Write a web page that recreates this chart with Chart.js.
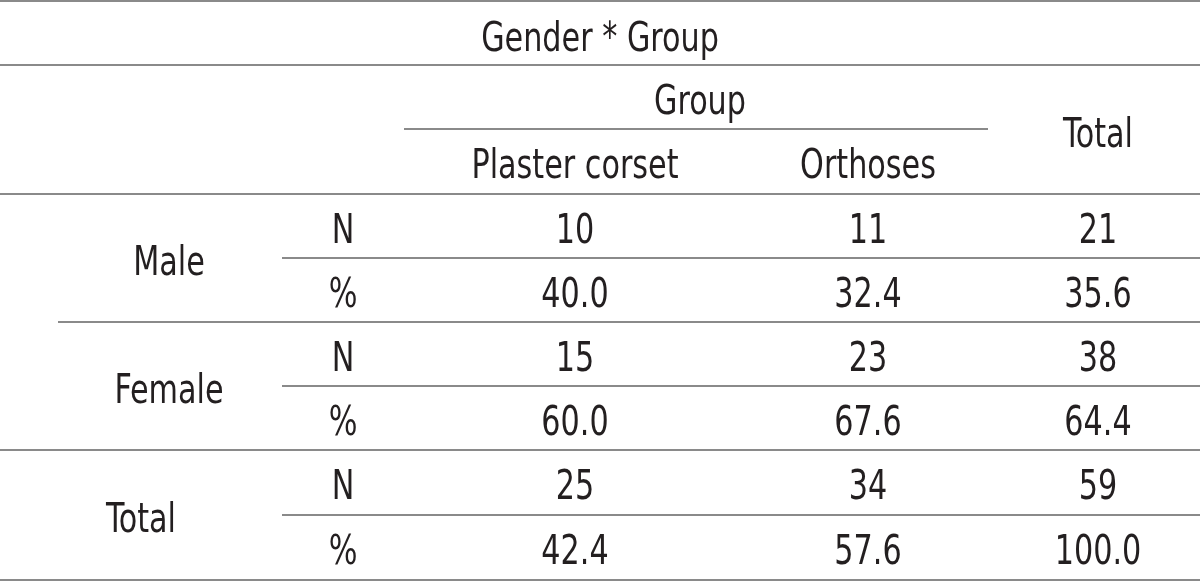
<!DOCTYPE html>
<html>
<head>
<meta charset="utf-8">
<script src="https://cdn.jsdelivr.net/npm/chart.js@4.4.0/dist/chart.umd.min.js"></script>
<style>
  html, body { margin: 0; padding: 0; background: #fff; }
  #wrap { width: 1200px; height: 581px; }
</style>
</head>
<body>
<div id="wrap"><canvas id="tableChart" width="1200" height="581"></canvas></div>
<script>
const TITLE = "Gender * Group";
const GROUP_HEADER = "Group";
const COLUMNS = ["Plaster corset", "Orthoses", "Total"];
const ROW_GROUPS = ["Male", "Female", "Total"];
const STATS = ["N", "%", "N", "%", "N", "%"];

const PLASTER = [10, 40.0, 15, 60.0, 25, 42.4];
const ORTHOSES = [11, 32.4, 23, 67.6, 34, 57.6];
const TOTAL = [21, 35.6, 38, 64.4, 59, 100.0];

// layout (scale units, x: 0..1200, y: 0..581 top-down), y values are text baselines
const COL_X = [575, 868, 1098];
const STAT_X = 343;
const GROUP_X = [169, 169, 141];
const ROW_Y = [243, 307, 371, 435, 499, 564];
const FONT = '40px "DejaVu Sans Condensed", sans-serif';
const SQUEEZE = 0.84;
const INK = "#231f20";
const RULE = "#8a8a8a";

function fmt(v, i) {
  return STATS[i] === "%" ? v.toFixed(1) : String(v);
}

const tablePlugin = {
  id: "tablePlugin",
  afterDatasetsDraw(chart) {
    const ctx = chart.ctx;
    const xs = chart.scales.x, ys = chart.scales.y;
    const X = v => xs.getPixelForValue(v);
    const Y = v => ys.getPixelForValue(v);

    ctx.save();
    // rules
    ctx.strokeStyle = RULE;
    ctx.lineWidth = 2;
    const rule = (x0, x1, y) => {
      ctx.beginPath();
      ctx.moveTo(X(x0), Y(y));
      ctx.lineTo(X(x1), Y(y));
      ctx.stroke();
    };
    rule(0, 1200, 1);
    rule(0, 1200, 65);
    rule(404, 988, 129);
    rule(0, 1200, 194);
    rule(282, 1200, 258);
    rule(58, 1200, 322);
    rule(282, 1200, 386);
    rule(0, 1200, 450);
    rule(282, 1200, 515);
    rule(0, 1200, 580);

    ctx.fillStyle = INK;
    ctx.font = FONT;
    ctx.textAlign = "center";
    ctx.textBaseline = "alphabetic";
    const text = (s, px, py) => {
      ctx.save();
      ctx.translate(px, py);
      ctx.scale(SQUEEZE, 1);
      ctx.fillText(s, 0, 0);
      ctx.restore();
    };
    text(TITLE, X(600), Y(51));
    text(GROUP_HEADER, X(700), Y(114));
    text(COLUMNS[0], X(COL_X[0]), Y(178));
    text(COLUMNS[1], X(COL_X[1]), Y(178));
    text(COLUMNS[2], X(COL_X[2]), Y(147));

    ROW_GROUPS.forEach((g, i) => {
      text(g, X(GROUP_X[i]), Y((ROW_Y[i * 2] + ROW_Y[i * 2 + 1]) / 2));
    });
    STATS.forEach((s, i) => text(s, X(STAT_X), Y(ROW_Y[i])));

    // cell values, placed at each dataset point
    chart.data.datasets.forEach((ds, di) => {
      const meta = chart.getDatasetMeta(di);
      meta.data.forEach((pt, i) => {
        text(fmt(ds.data[i].v, i), pt.x, pt.y);
      });
    });
    ctx.restore();
  }
};

function cells(values, col) {
  return values.map((v, i) => ({ x: COL_X[col], y: ROW_Y[i], v: v }));
}

new Chart(document.getElementById("tableChart"), {
  type: "scatter",
  data: {
    datasets: [
      { label: COLUMNS[0], data: cells(PLASTER, 0), pointRadius: 0 },
      { label: COLUMNS[1], data: cells(ORTHOSES, 1), pointRadius: 0 },
      { label: COLUMNS[2], data: cells(TOTAL, 2), pointRadius: 0 }
    ]
  },
  options: {
    responsive: false,
    animation: false,
    layout: { padding: 0 },
    plugins: { legend: { display: false }, tooltip: { enabled: false } },
    scales: {
      x: { type: "linear", min: 0, max: 1200, display: false },
      y: { type: "linear", min: 0, max: 581, reverse: true, display: false }
    }
  },
  plugins: [tablePlugin]
});
</script>
</body>
</html>
